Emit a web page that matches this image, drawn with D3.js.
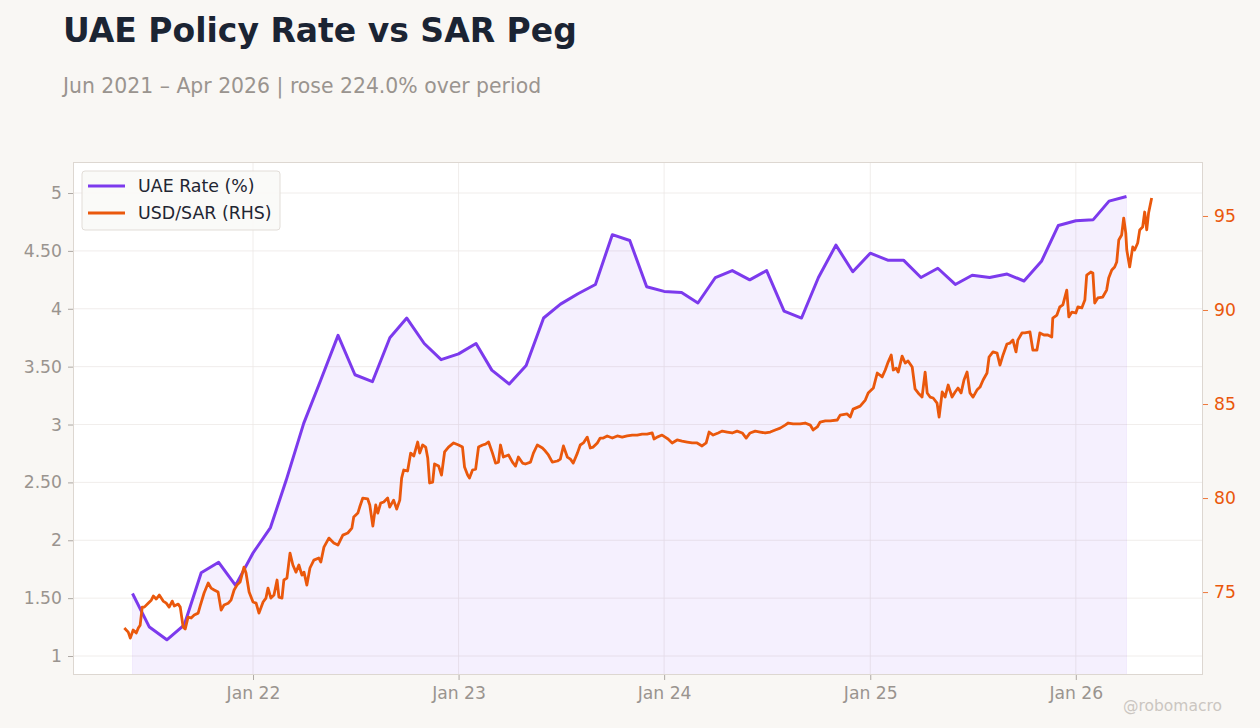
<!DOCTYPE html>
<html>
<head>
<meta charset="utf-8">
<script src="https://cdn.jsdelivr.net/npm/d3@7"></script>
<style>
  body { margin: 0; background: #f9f7f4; font-family: "DejaVu Sans", sans-serif; }
</style>
</head>
<body>
<svg id="chart" width="1260" height="728"></svg>
<script>
// ---- data ----
const title = 'UAE Policy Rate vs SAR Peg';
const subtitle = 'Jun 2021 \u2013 Apr 2026 | rose 224.0% over period';

// monthly UAE policy rate, Jun 2021 .. Apr 2026
const rateStart = [2021, 5];
const uaeRate = [
  1.54, 1.25, 1.14, 1.27, 1.72, 1.81, 1.61,
  1.89, 2.11, 2.52, 3.01, 3.38, 3.77, 3.43, 3.37, 3.75, 3.92, 3.70, 3.56,
  3.61, 3.70, 3.47, 3.35, 3.51, 3.92, 4.04, 4.13, 4.21, 4.64, 4.59, 4.19,
  4.15, 4.14, 4.05, 4.27, 4.33, 4.25, 4.33, 3.98, 3.92, 4.27, 4.55, 4.32,
  4.48, 4.42, 4.42, 4.27, 4.35, 4.21, 4.29, 4.27, 4.30, 4.24, 4.41, 4.72,
  4.76, 4.77, 4.93, 4.97
];

// USD/SAR (RHS), [decimal year, value]
const usdSar = [
  [2021.374,73.09],[2021.393,72.87],[2021.403,72.55],[2021.417,72.98],[2021.432,72.82],[2021.442,73.09],
  [2021.451,73.24],[2021.461,74.20],[2021.471,74.20],[2021.490,74.41],[2021.505,74.57],[2021.515,74.79],
  [2021.529,74.63],[2021.544,74.84],[2021.563,74.52],[2021.578,74.41],[2021.592,74.20],[2021.607,74.52],
  [2021.617,74.26],[2021.636,74.36],[2021.646,74.20],[2021.660,73.14],[2021.670,73.03],[2021.684,73.67],
  [2021.699,73.62],[2021.714,73.78],[2021.733,73.88],[2021.743,74.26],[2021.762,74.95],[2021.782,75.48],
  [2021.796,75.21],[2021.811,75.11],[2021.830,75.00],[2021.845,74.04],[2021.859,74.31],[2021.879,74.41],
  [2021.893,74.57],[2021.908,75.11],[2021.922,75.37],[2021.937,75.53],[2021.956,76.33],[2021.966,76.01],
  [2021.981,75.00],[2022.000,74.47],[2022.015,74.41],[2022.029,73.88],[2022.049,74.47],[2022.063,74.68],
  [2022.073,75.21],[2022.087,74.68],[2022.102,74.84],[2022.117,75.64],[2022.126,74.73],[2022.141,74.68],
  [2022.150,75.64],[2022.165,75.74],[2022.180,77.07],[2022.194,76.44],[2022.209,76.06],[2022.223,76.44],
  [2022.238,75.90],[2022.248,76.06],[2022.262,75.37],[2022.277,76.28],[2022.296,76.70],[2022.320,76.81],
  [2022.330,76.60],[2022.345,77.39],[2022.369,77.87],[2022.393,77.61],[2022.413,77.50],[2022.437,78.03],
  [2022.461,78.14],[2022.481,78.40],[2022.490,78.99],[2022.510,79.20],[2022.519,79.52],[2022.534,80.00],
  [2022.558,79.95],[2022.568,79.63],[2022.583,78.51],[2022.597,79.63],[2022.607,79.20],[2022.621,79.73],
  [2022.636,79.79],[2022.655,80.00],[2022.665,79.52],[2022.684,79.89],[2022.699,79.41],[2022.714,79.89],
  [2022.723,81.06],[2022.733,81.49],[2022.752,81.44],[2022.767,82.39],[2022.782,82.23],[2022.801,82.98],
  [2022.811,82.39],[2022.825,82.82],[2022.840,82.71],[2022.850,82.13],[2022.859,80.80],[2022.874,80.85],
  [2022.883,81.81],[2022.903,81.70],[2022.917,81.22],[2022.932,82.45],[2022.951,82.71],[2022.976,82.93],
  [2023.000,82.82],[2023.019,82.71],[2023.029,81.65],[2023.044,81.22],[2023.053,81.06],[2023.068,81.49],
  [2023.083,81.54],[2023.097,82.71],[2023.117,82.82],[2023.131,82.87],[2023.146,82.98],[2023.165,82.39],
  [2023.180,81.86],[2023.194,81.91],[2023.204,82.82],[2023.218,82.18],[2023.243,82.29],[2023.262,81.91],
  [2023.277,81.70],[2023.291,82.18],[2023.311,81.86],[2023.325,81.81],[2023.350,81.91],[2023.364,82.39],
  [2023.383,82.82],[2023.408,82.66],[2023.422,82.50],[2023.437,82.29],[2023.456,81.91],[2023.481,81.97],
  [2023.495,82.07],[2023.510,82.77],[2023.529,82.18],[2023.544,82.07],[2023.558,81.86],[2023.578,82.39],
  [2023.592,82.82],[2023.607,82.93],[2023.626,83.24],[2023.641,82.66],[2023.655,82.71],[2023.675,82.93],
  [2023.689,83.19],[2023.704,83.19],[2023.723,83.30],[2023.748,83.19],[2023.772,83.30],[2023.796,83.24],
  [2023.820,83.30],[2023.845,83.35],[2023.869,83.35],[2023.893,83.40],[2023.917,83.40],[2023.942,83.46],
  [2023.951,83.14],[2023.966,83.24],[2023.990,83.35],[2024.005,83.24],[2024.019,83.14],[2024.039,82.93],
  [2024.063,83.09],[2024.087,83.03],[2024.112,82.98],[2024.136,82.93],[2024.160,82.93],[2024.184,82.77],
  [2024.204,82.93],[2024.218,83.51],[2024.238,83.35],[2024.262,83.46],[2024.282,83.56],[2024.306,83.51],
  [2024.330,83.46],[2024.354,83.56],[2024.379,83.46],[2024.398,83.19],[2024.417,83.46],[2024.442,83.56],
  [2024.466,83.51],[2024.490,83.46],[2024.515,83.51],[2024.539,83.62],[2024.563,83.72],[2024.587,83.88],
  [2024.602,83.99],[2024.626,83.94],[2024.660,83.94],[2024.684,83.99],[2024.709,83.88],[2024.723,83.62],
  [2024.743,83.78],[2024.757,84.04],[2024.782,84.10],[2024.806,84.10],[2024.840,84.15],[2024.854,84.41],
  [2024.888,84.47],[2024.903,84.31],[2024.917,84.73],[2024.951,84.89],[2024.976,85.21],[2024.990,85.59],
  [2025.015,85.85],[2025.034,86.65],[2025.058,86.44],[2025.073,86.81],[2025.087,87.23],[2025.102,87.61],
  [2025.112,86.81],[2025.126,86.91],[2025.136,86.70],[2025.155,87.55],[2025.170,87.18],[2025.184,87.29],
  [2025.204,86.97],[2025.218,85.80],[2025.233,85.59],[2025.252,85.37],[2025.267,86.70],[2025.277,85.59],
  [2025.291,85.37],[2025.306,85.32],[2025.325,85.05],[2025.335,84.31],[2025.350,85.64],[2025.364,85.37],
  [2025.379,86.01],[2025.398,85.37],[2025.413,85.64],[2025.427,85.85],[2025.442,85.59],[2025.456,86.28],
  [2025.471,86.70],[2025.485,85.59],[2025.500,85.37],[2025.519,85.74],[2025.534,85.90],[2025.549,86.28],
  [2025.568,86.65],[2025.578,87.50],[2025.597,87.77],[2025.617,87.71],[2025.631,87.07],[2025.646,87.61],
  [2025.665,88.19],[2025.680,88.24],[2025.694,88.40],[2025.709,87.77],[2025.718,88.40],[2025.738,88.78],
  [2025.752,88.78],[2025.777,88.83],[2025.791,87.87],[2025.811,87.87],[2025.825,88.78],[2025.845,88.67],
  [2025.864,88.67],[2025.883,88.56],[2025.888,89.57],[2025.908,89.73],[2025.922,90.16],[2025.937,90.27],
  [2025.956,91.06],[2025.966,89.63],[2025.981,89.89],[2026.000,89.84],[2026.010,90.16],[2026.029,90.11],
  [2026.044,90.53],[2026.053,91.86],[2026.073,92.02],[2026.083,91.97],[2026.092,90.37],[2026.107,90.64],
  [2026.131,90.69],[2026.150,91.06],[2026.160,91.70],[2026.175,92.13],[2026.189,92.29],[2026.199,92.55],
  [2026.209,93.72],[2026.223,93.99],[2026.233,94.89],[2026.243,94.10],[2026.248,93.19],[2026.262,92.29],
  [2026.277,93.35],[2026.286,93.19],[2026.301,93.56],[2026.311,94.26],[2026.325,94.41],[2026.335,95.21],
  [2026.345,94.26],[2026.354,95.16],[2026.369,95.96]
];

const leftTicks = [1, 1.5, 2, 2.5, 3, 3.5, 4, 4.5, 5];
const leftTickLabels = ['1', '1.50', '2', '2.50', '3', '3.50', '4', '4.50', '5'];
const rightTicks = [75, 80, 85, 90, 95];
const yearTicks = [2022, 2023, 2024, 2025, 2026];
const yearTickLabels = ['Jan 22', 'Jan 23', 'Jan 24', 'Jan 25', 'Jan 26'];
const legendItems = ['UAE Rate (%)', 'USD/SAR (RHS)'];

// ---- setup ----
const W = 1260, H = 728;
const margin = { top: 162, right: 57, bottom: 53, left: 73 };
const purple = '#7c3aed', orange = '#ea580c';
const gray = '#9a948f';

const svg = d3.select('#chart');
const innerW = W - margin.left - margin.right;
const innerH = H - margin.top - margin.bottom;

function decToDate(t) {
  const y = Math.floor(t);
  const s = new Date(y, 0, 1), e = new Date(y + 1, 0, 1);
  return new Date(+s + (t - y) * (e - s));
}

const rateData = uaeRate.map((v, i) => ({ date: new Date(rateStart[0], rateStart[1] + i, 1), v }));
const sarData = usdSar.map(d => ({ date: decToDate(d[0]), v: d[1] }));

// x range padded 5% like the source
const ext = d3.extent(usdSar, d => d[0]);
const pad = (ext[1] - ext[0]) * 0.05;
const x = d3.scaleTime()
  .domain([decToDate(ext[0] - pad), decToDate(ext[1] + pad)])
  .range([margin.left, margin.left + innerW]);
const yL = d3.scaleLinear().domain([0.836, 5.268]).range([margin.top + innerH, margin.top]);
const yR = d3.scaleLinear().domain([70.59, 97.87]).range([margin.top + innerH, margin.top]);

// plot background
svg.append('rect')
  .attr('x', margin.left).attr('y', margin.top)
  .attr('width', innerW).attr('height', innerH)
  .attr('fill', '#ffffff');

svg.append('clipPath').attr('id', 'clip')
  .append('rect')
  .attr('x', margin.left).attr('y', margin.top)
  .attr('width', innerW).attr('height', innerH);

// grid
const grid = svg.append('g').attr('clip-path', 'url(#clip)');
grid.selectAll('line.h').data(leftTicks).join('line')
  .attr('x1', margin.left).attr('x2', margin.left + innerW)
  .attr('y1', d => yL(d)).attr('y2', d => yL(d))
  .attr('stroke', '#ece9e6').attr('stroke-width', 0.8);
grid.selectAll('line.v').data(yearTicks).join('line')
  .attr('x1', d => x(new Date(d, 0, 1))).attr('x2', d => x(new Date(d, 0, 1)))
  .attr('y1', margin.top).attr('y2', margin.top + innerH)
  .attr('stroke', '#ece9e6').attr('stroke-width', 0.8);

const plot = svg.append('g').attr('clip-path', 'url(#clip)');

// area under UAE rate
plot.append('path')
  .datum(rateData)
  .attr('d', d3.area().x(d => x(d.date)).y0(margin.top + innerH).y1(d => yL(d.v)))
  .attr('fill', purple).attr('fill-opacity', 0.08)
  .attr('stroke', purple).attr('stroke-opacity', 0.06);

plot.append('path')
  .datum(rateData)
  .attr('d', d3.line().x(d => x(d.date)).y(d => yL(d.v)))
  .attr('fill', 'none').attr('stroke', purple)
  .attr('stroke-width', 3).attr('stroke-linejoin', 'round');

plot.append('path')
  .datum(sarData)
  .attr('d', d3.line().x(d => x(d.date)).y(d => yR(d.v)))
  .attr('fill', 'none').attr('stroke', orange)
  .attr('stroke-width', 2.8).attr('stroke-linejoin', 'round');

// frame
svg.append('rect')
  .attr('x', margin.left + 0.5).attr('y', margin.top + 0.5)
  .attr('width', innerW - 1).attr('height', innerH - 1)
  .attr('fill', 'none').attr('stroke', '#ddd7d1').attr('stroke-width', 1);

// axes
const fontSize = '17.2px';
const axL = svg.append('g')
  .attr('transform', `translate(${margin.left},0)`)
  .call(d3.axisLeft(yL).tickValues(leftTicks).tickSize(5).tickPadding(6)
    .tickFormat((d, i) => leftTickLabels[i]));
const axR = svg.append('g')
  .attr('transform', `translate(${margin.left + innerW},0)`)
  .call(d3.axisRight(yR).tickValues(rightTicks).tickSize(5).tickPadding(6));
const axB = svg.append('g')
  .attr('transform', `translate(0,${margin.top + innerH})`)
  .call(d3.axisBottom(x).tickValues(yearTicks.map(y => new Date(y, 0, 1))).tickSize(5).tickPadding(7)
    .tickFormat((d, i) => yearTickLabels[i]));

[axL, axB].forEach(a => {
  a.select('.domain').remove();
  a.selectAll('.tick line').attr('stroke', gray).attr('stroke-width', 0.8);
  a.selectAll('.tick text').attr('fill', gray).style('font-size', fontSize)
    .style('font-family', '"DejaVu Sans", sans-serif');
});
axR.select('.domain').remove();
axR.selectAll('.tick line').attr('stroke', orange).attr('stroke-width', 0.8);
axR.selectAll('.tick text').attr('fill', orange).style('font-size', fontSize)
  .style('font-family', '"DejaVu Sans", sans-serif');

// legend
const lg = svg.append('g').attr('transform', 'translate(82,171)');
lg.append('rect')
  .attr('width', 198).attr('height', 59).attr('rx', 3)
  .attr('fill', '#faf9f7').attr('fill-opacity', 0.9)
  .attr('stroke', '#e2ddd8');
legendItems.forEach((label, i) => {
  const yy = 15 + i * 27;
  lg.append('line')
    .attr('x1', 6).attr('x2', 43).attr('y1', yy).attr('y2', yy)
    .attr('stroke', i === 0 ? purple : orange).attr('stroke-width', 3);
  lg.append('text')
    .attr('x', 56).attr('y', yy).attr('dy', '0.35em')
    .attr('fill', '#1f2633').style('font-size', '17.4px')
    .text(label);
});

// titles
svg.append('text')
  .attr('x', 63).attr('y', 42)
  .attr('fill', '#1b2433')
  .style('font-size', '33px').style('font-weight', 'bold')
  .text(title);
svg.append('text')
  .attr('x', 63).attr('y', 93)
  .attr('fill', '#9a948f')
  .style('font-size', '20.4px')
  .text(subtitle);

// watermark
svg.append('text')
  .attr('x', 1222).attr('y', 711)
  .attr('text-anchor', 'end')
  .attr('fill', '#cbc6c1')
  .style('font-size', '15.5px')
  .text('@robomacro');
</script>
</body>
</html>
